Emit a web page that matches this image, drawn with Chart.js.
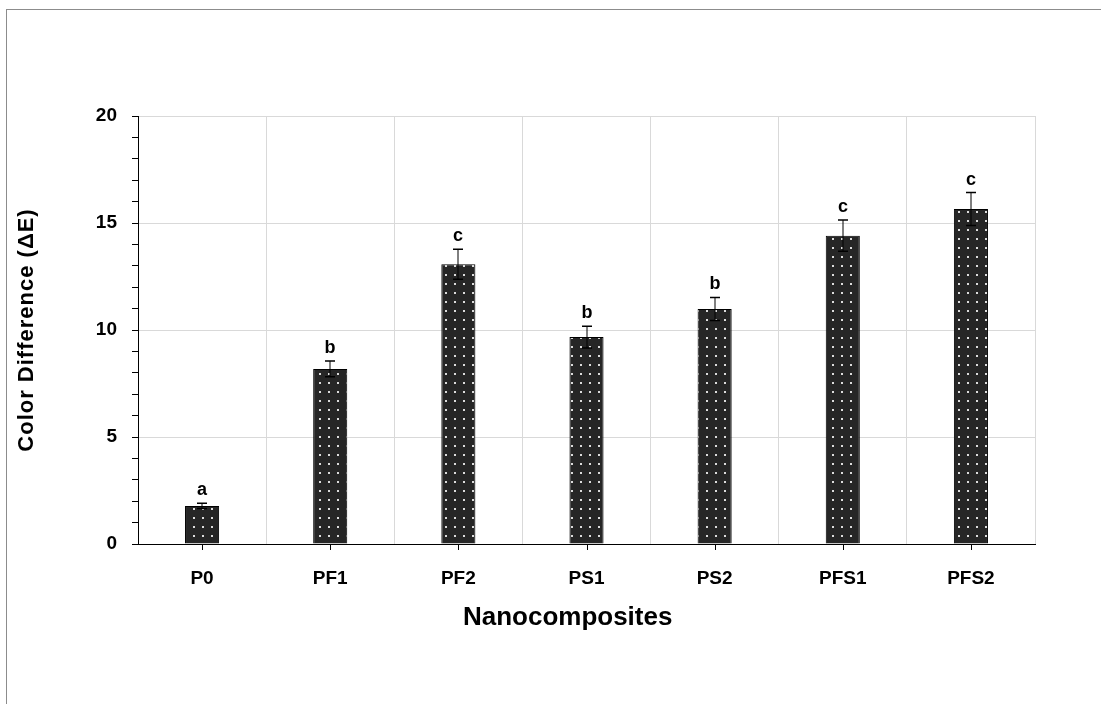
<!DOCTYPE html>
<html lang="en">
<head>
    <meta charset="UTF-8">
    <title>Color Difference - Nanocomposites</title>
    <script src="https://cdn.jsdelivr.net/npm/chart.js"></script>
    <style>
        body {
            margin: 0;
            background-color: #ffffff;
            width: 1101px;
            height: 704px;
            overflow: hidden;
            position: relative;
        }
        .frame {
            position: absolute;
            left: 6px;
            top: 9px;
            width: 1200px;
            height: 800px;
            border: 1px solid #8c8c8c;
            z-index: 0;
        }
        #chart {
            position: absolute;
            left: 0;
            top: 0;
            z-index: 1;
        }
    </style>
</head>
<body>
    <div class="frame"></div>
    <canvas id="chart" width="1101" height="704"></canvas>

    <script>
        // data
        const categories = ['P0', 'PF1', 'PF2', 'PS1', 'PS2', 'PFS1', 'PFS2'];
        const deltaE = [1.78, 8.18, 13.07, 9.67, 10.98, 14.41, 15.65];
        const errors = [0.12, 0.37, 0.70, 0.51, 0.54, 0.73, 0.77];
        const letters = ['a', 'b', 'c', 'b', 'b', 'c', 'c'];
        const yTicks = [0, 5, 10, 15, 20];
        const xTitle = 'Nanocomposites';
        const yTitle = 'Color Difference (ΔE)';

        const FONT = "'Liberation Sans', Arial, sans-serif";

        // dark fill with light dots, like the Excel pattern
        function dotPattern() {
            const c = document.createElement('canvas');
            c.width = 9;
            c.height = 9;
            const g = c.getContext('2d');
            g.fillStyle = '#262626';
            g.fillRect(0, 0, 9, 9);
            g.fillStyle = '#dcdcdc';
            g.fillRect(4, 4, 2, 2);
            return g.createPattern(c, 'repeat');
        }

        const extras = {
            id: 'extras',
            afterDatasetsDraw(chart) {
                const ctx = chart.ctx;
                const ys = chart.scales.y;
                const area = chart.chartArea;
                const meta = chart.getDatasetMeta(0);
                ctx.save();
                meta.data.forEach((bar, i) => {
                    const x = Math.round(bar.x);
                    const top = ys.getPixelForValue(deltaE[i] + errors[i]);
                    const bot = ys.getPixelForValue(deltaE[i] - errors[i]);
                    // error bar
                    ctx.strokeStyle = '#000';
                    ctx.lineWidth = 1;
                    ctx.beginPath();
                    ctx.moveTo(x, top);
                    ctx.lineTo(x, bot);
                    ctx.stroke();
                    ctx.lineWidth = 1.5;
                    ctx.beginPath();
                    ctx.moveTo(x - 5, top);
                    ctx.lineTo(x + 5, top);
                    ctx.moveTo(x - 5, bot);
                    ctx.lineTo(x + 5, bot);
                    ctx.stroke();
                    // significance letter
                    ctx.fillStyle = '#000';
                    ctx.font = 'bold 18px ' + FONT;
                    ctx.textAlign = 'center';
                    ctx.textBaseline = 'alphabetic';
                    ctx.fillText(letters[i], x, top - 8);
                    // tick mark under the category axis
                    ctx.lineWidth = 1;
                    ctx.beginPath();
                    ctx.moveTo(x + 0.5, area.bottom);
                    ctx.lineTo(x + 0.5, area.bottom + 6);
                    ctx.stroke();
                });

                // axis titles (Excel puts the x title a bit left of the plot centre)
                ctx.fillStyle = '#000';
                ctx.textAlign = 'center';
                ctx.textBaseline = 'middle';
                ctx.font = 'bold 26px ' + FONT;
                ctx.fillText(xTitle, area.left + (area.right - area.left) * 0.479, area.bottom + 74);

                ctx.save();
                ctx.translate(27, (area.top + area.bottom) / 2);
                ctx.rotate(-Math.PI / 2);
                ctx.font = 'bold 22px ' + FONT;
                ctx.letterSpacing = '1px';
                ctx.fillText(yTitle, 0, 0);
                ctx.restore();
                ctx.restore();
            }
        };

        const ctx = document.getElementById('chart').getContext('2d');
        new Chart(ctx, {
            type: 'bar',
            data: {
                labels: categories,
                datasets: [{
                    label: yTitle,
                    data: deltaE,
                    backgroundColor: dotPattern(),
                    borderColor: '#000000',
                    borderWidth: 1,
                    barPercentage: 0.266,
                    categoryPercentage: 1.0
                }]
            },
            options: {
                responsive: false,
                animation: false,
                layout: { padding: { left: 0, top: 116, right: 66, bottom: 0 } },
                plugins: {
                    legend: { display: false },
                    tooltip: { enabled: false }
                },
                scales: {
                    x: {
                        offset: true,
                        afterFit: (s) => { s.height = 160; },
                        grid: { display: true, offset: true, drawTicks: false, color: '#d9d9d9' },
                        border: { display: true, color: '#000000', width: 1 },
                        ticks: {
                            padding: 23,
                            color: '#000000',
                            font: { family: FONT, size: 19, weight: 'bold' }
                        }
                    },
                    y: {
                        min: 0,
                        max: 20,
                        afterFit: (s) => { s.width = 138; },
                        ticks: {
                            stepSize: 1,
                            autoSkip: false,
                            padding: 15,
                            color: '#000000',
                            font: { family: FONT, size: 19, weight: 'bold' },
                            callback: (v) => yTicks.includes(v) ? v : ''
                        },
                        grid: {
                            color: (c) => (c.tick && yTicks.includes(c.tick.value)) ? '#d9d9d9' : 'rgba(0,0,0,0)',
                            tickColor: '#000000',
                            tickLength: 6
                        },
                        border: { display: true, color: '#000000', width: 1 }
                    }
                }
            },
            plugins: [extras]
        });
    </script>
</body>
</html>
